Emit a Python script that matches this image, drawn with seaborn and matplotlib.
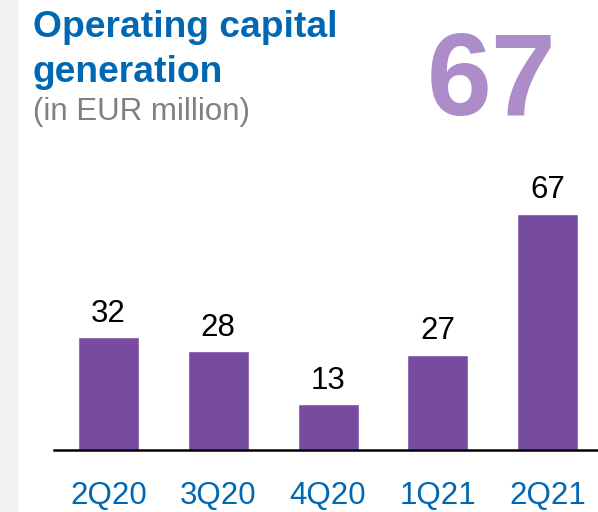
import matplotlib
matplotlib.use("Agg")
import matplotlib.pyplot as plt
import seaborn as sns
import pandas as pd

categories = ["2Q20", "3Q20", "4Q20", "1Q21", "2Q21"]
values = [32, 28, 13, 27, 67]
headline = "67"
title_lines = ["Operating capital", "generation"]
subtitle = "(in EUR million)"

sns.set_theme(style="white")
plt.rcParams["font.family"] = ["Liberation Sans", "DejaVu Sans"]

BAR = "#774ca0"
BLUE = "#0068b3"

df = pd.DataFrame({"q": categories, "v": values})

fig = plt.figure(figsize=(5.98, 5.12), dpi=100)
fig.patches.append(plt.Rectangle((0, 0), 17 / 598, 1, transform=fig.transFigure,
                                 color="#f2f2f2", zorder=0))

ax = fig.add_axes([54 / 598, 1 - 450 / 512, 1 - 54 / 598, (450 - 160) / 512])
sns.barplot(data=df, x="q", y="v", color=BAR, width=0.556, saturation=1, ax=ax)
ax.set_xlim(-0.497, 4.46)
ax.set_ylim(0, 82.2)
ax.set_xlabel("")
ax.set_ylabel("")
ax.set_yticks([])
for s in ["top", "right", "left"]:
    ax.spines[s].set_visible(False)
ax.spines["bottom"].set_color("black")
ax.spines["bottom"].set_linewidth(1.8)
ax.tick_params(axis="x", length=0, pad=22, labelsize=22.5, labelcolor=BLUE)
ax.set_facecolor("none")
for i, v in enumerate(values):
    ax.annotate(str(v), (i, v), xytext=(0, 6), textcoords="offset points",
                ha="center", va="bottom", fontsize=22.5, color="black")

fig.text(33 / 598, 1 - 37 / 512, title_lines[0], fontsize=26.8, fontweight="bold",
         color=BLUE, ha="left", va="baseline")
fig.text(33 / 598, 1 - 82 / 512, title_lines[1], fontsize=26.8, fontweight="bold",
         color=BLUE, ha="left", va="baseline")
fig.text(33 / 598, 1 - 120 / 512, subtitle, fontsize=22.5,
         color="#808080", ha="left", va="baseline")
fig.text(492 / 598, 1 - 115 / 512, headline, fontsize=84, fontweight="bold",
         color="#ad8dc9", ha="center", va="baseline")

fig.savefig("out.png", dpi=100)
